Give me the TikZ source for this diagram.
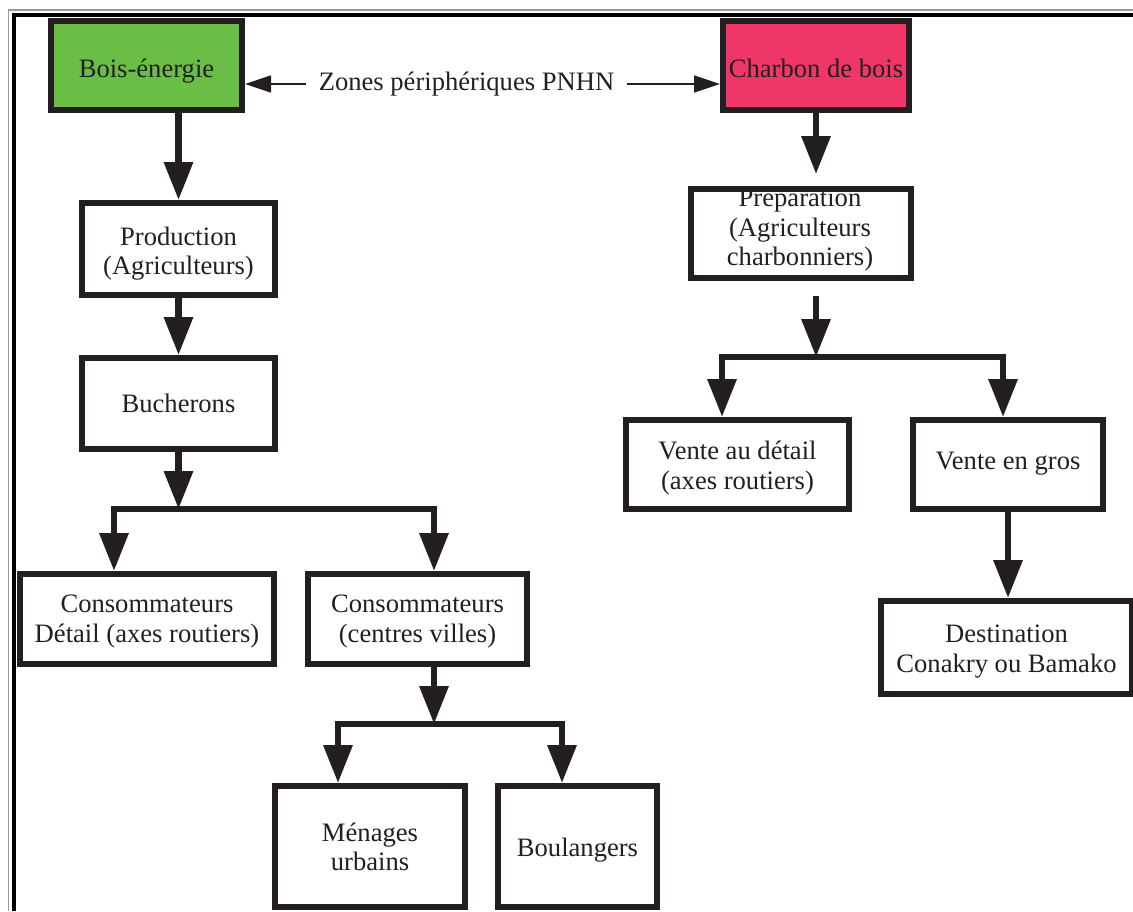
\documentclass[tikz,border=0pt]{standalone}
\usepackage{fontspec}
\setmainfont{Liberation Serif}
\usetikzlibrary{arrows.meta}
\definecolor{ink}{HTML}{231F20}
\definecolor{boisgreen}{HTML}{6BBE45}
\definecolor{charbonpink}{HTML}{EE3768}
\definecolor{framegray}{HTML}{9A9A9A}
\newcommand\diagfont{\fontsize{13.3pt}{14.75pt}\selectfont}
\newcommand\ml[1]{\begin{tabular}{@{}c@{}}#1\end{tabular}}
\newcommand\shml[2]{\raisebox{#1}[\height][\depth]{\ml{#2}}}
\begin{document}
\begin{tikzpicture}[x=0.5pt,y=-0.5pt,
  box/.style={draw=ink, line width=3pt, fill=white, inner sep=0pt, font=\diagfont, text=ink},
  txt/.style={inner sep=0pt, font=\diagfont, text=ink},
  flow/.style={draw=ink, line width=3.2pt, -{Triangle[length=19pt,width=14pt]}},
  thinarrow/.style={draw=ink, line width=0.75pt, -{Triangle[length=13pt,width=8.5pt]}},
]
\useasboundingbox (0,0) rectangle (1133,911);
\clip (0,0) rectangle (1133,911);

% frame
\draw[framegray, line width=0.8pt] (8.5,911) -- (8.5,10) -- (1133,10);
\draw[black, line width=2pt] (14,911) -- (14,14.5) -- (1133,14.5);

% left column
\node[box, fill=boisgreen, minimum width=95.5pt, minimum height=44.5pt] (bois) at (146.5,65.5) {\shml{-3pt}{Bois-énergie}};
\node[box, minimum width=96.5pt, minimum height=46pt] (prod) at (178.5,249) {\shml{-2.5pt}{Production\\(Agriculteurs)}};
\node[box, minimum width=96.5pt, minimum height=45.5pt] (buch) at (178.5,403.5) {\shml{-1.5pt}{Bucherons}};
\node[box, minimum width=127pt, minimum height=45pt] (cdet) at (147,619) {\shml{-1.25pt}{Consommateurs\\Détail (axes routiers)}};
\node[box, minimum width=109.5pt, minimum height=45pt] (ccv) at (417.5,619) {\shml{-1.25pt}{Consommateurs\\(centres villes)}};
\node[box, minimum width=95pt, minimum height=60.5pt] (men) at (370,846.5) {\shml{-1.75pt}{Ménages\\urbains}};
\node[box, minimum width=79.5pt, minimum height=60.5pt] (boul) at (577.5,846.5) {\shml{-2pt}{Boulangers}};

% right column
\node[box, fill=charbonpink, minimum width=93pt, minimum height=44.5pt] (charbon) at (816,65.5) {\shml{-3.25pt}{Charbon de bois}};
\node[txt] (prept) at (800,230.5) {\ml{Préparation\\(Agriculteurs\\charbonniers)}};
\node[box, fill=none, minimum width=110pt, minimum height=44.5pt] (prep) at (801,233.5) {};
\node[box, minimum width=111.5pt, minimum height=44.5pt] (vdet) at (737.5,464.5) {\shml{-2pt}{Vente au détail\\(axes routiers)}};
\node[box, minimum width=95pt, minimum height=44.5pt] (vgros) at (1008,464.5) {\shml{0.5pt}{Vente en gros}};
\node[box, minimum width=125.5pt, minimum height=46.5pt] (dest) at (1006.5,647.5) {\shml{-2pt}{Destination\\Conakry ou Bamako}};

% zones label with arrows
\node[txt, inner sep=6pt] (zones) at (466.5,84) {Zones périphériques PNHN};
\draw[thinarrow] (zones.west) -- (zones.west -| bois.east);
\draw[thinarrow] (zones.east) -- (zones.east -| charbon.west);

% junction coordinates
\coordinate (b1) at (178.5,509);
\coordinate (d1l) at (114,509);
\coordinate (d1r) at (434,509);
\coordinate (b2) at (434,724);
\coordinate (d2l) at (338,724);
\coordinate (d2r) at (562,724);
\coordinate (b3) at (816,357);
\coordinate (d3l) at (722,357);
\coordinate (d3r) at (1003,357);

% left connectors
\draw[flow] (prod.north |- bois.south) -- (prod.north);
\draw[flow] (prod.south) -- (buch.north);
\draw[flow] (buch.south) -- (b1);
\draw[flow] (b1) -- (d1l) -- (d1l |- cdet.north);
\draw[flow] (b1) -- (d1r) -- (d1r |- ccv.north);
\draw[flow] (b2 |- ccv.south) -- (b2);
\draw[flow] (b2) -- (d2l) -- (d2l |- men.north);
\draw[flow] (b2) -- (d2r) -- (d2r |- boul.north);

% right connectors
\draw[flow, shorten >=6pt] (charbon.south) -- (charbon.south |- prep.north);
\draw[flow, shorten <=7.5pt] (b3 |- prep.south) -- (b3);
\draw[flow] (b3) -- (d3l) -- (d3l |- vdet.north);
\draw[flow] (b3) -- (d3r) -- (d3r |- vgros.north);
\draw[flow] (vgros.south) -- (vgros.south |- dest.north);
\end{tikzpicture}
\end{document}
